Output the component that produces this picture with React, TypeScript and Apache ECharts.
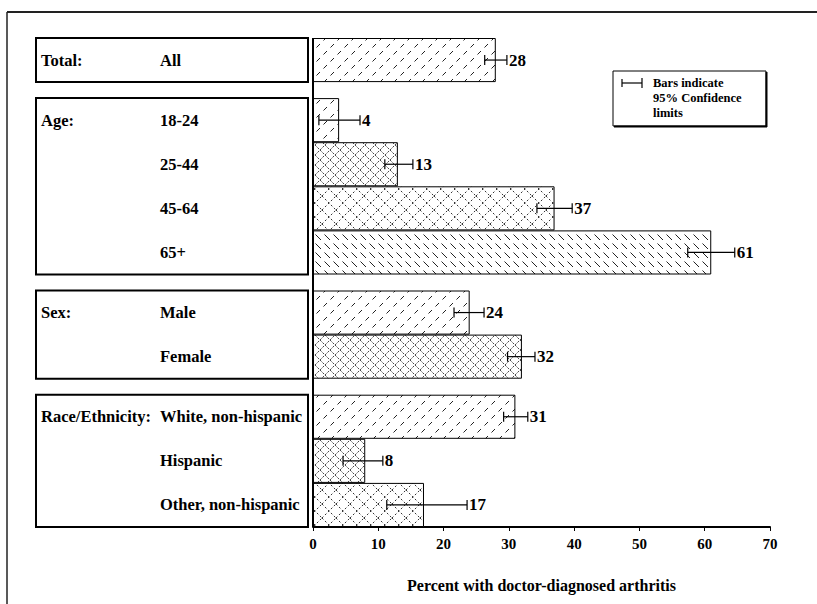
import React, { useEffect, useRef } from "react";
import * as echarts from "echarts";

// ---------- data ----------
const groupNames = ["Total:", "Age:", "Sex:", "Race/Ethnicity:"];
const groupSizes = [1, 4, 2, 3];
const categories = [
  "All",
  "18-24", "25-44", "45-64", "65+",
  "Male", "Female",
  "White, non-hispanic", "Hispanic", "Other, non-hispanic",
];
const values = [28, 4, 13, 37, 61, 24, 32, 31, 8, 17];
const ciLower = [26.3, 0.9, 11.0, 34.3, 57.4, 21.6, 29.8, 29.2, 4.6, 11.3];
const ciUpper = [29.7, 7.2, 15.3, 39.7, 64.6, 26.2, 34.0, 32.9, 10.7, 23.6];
const patternKinds = ["A", "A", "B", "C", "D", "A", "B", "A", "B", "C"];
const xMin = 0;
const xMax = 70;
const xInterval = 10;
const xTitle = "Percent with doctor-diagnosed arthritis";
const legendText = "Bars indicate\n95% Confidence\nlimits";

// ---------- layout / style ----------
const W = 817;
const H = 604;
const FONT = "'Liberation Serif', 'Times New Roman', serif";
const PLOT_LEFT = 313;
const PLOT_RIGHT = 770;
const PLOT_TOP = 38;
const SLOT = 44.1;
const GAP = 16;

function makePattern(kind: string) {
  const size = kind === "A" ? 14 : kind === "B" ? 10 : kind === "C" ? 14 : 9;
  const c = document.createElement("canvas");
  c.width = size;
  c.height = size;
  const ctx = c.getContext("2d")!;
  ctx.fillStyle = "#fff";
  ctx.fillRect(0, 0, size, size);
  ctx.strokeStyle = "#000";
  ctx.lineWidth = 1;
  const seg = (x1: number, y1: number, x2: number, y2: number) => {
    ctx.beginPath();
    ctx.moveTo(x1, y1);
    ctx.lineTo(x2, y2);
    ctx.stroke();
  };
  if (kind === "A") {
    ctx.strokeStyle = "#222";
    seg(1.5, 12.5, 5, 9);
    seg(8.5, 5.5, 12, 2);
  } else if (kind === "D") {
    ctx.strokeStyle = "#222";
    seg(0.5, 0.5, 6, 6);
  } else if (kind === "B") {
    ctx.strokeStyle = "#333";
    ctx.lineWidth = 0.9;
    ctx.setLineDash([2.2, 1.3]);
    seg(0, 0, size, size);
    seg(0, size, size, 0);
  } else {
    ctx.strokeStyle = "#333";
    ctx.setLineDash([2, 2.2]);
    seg(0, 0, size, size);
    seg(0, size, size, 0);
  }
  return {
    image: c.toDataURL(),
    repeat: "repeat",
    imageWidth: size,
    imageHeight: size,
  };
}

export default function App() {
  const ref = useRef<HTMLDivElement>(null);

  useEffect(() => {
    if (!ref.current) return;
    const chart = echarts.init(ref.current, undefined, { renderer: "svg" });

    const patterns: Record<string, any> = {};
    ["A", "B", "C", "D"].forEach((k) => (patterns[k] = makePattern(k)));

    const grids: any[] = [];
    const xAxes: any[] = [];
    const yAxes: any[] = [];
    const series: any[] = [];
    const boxes: any[] = [];

    let y = PLOT_TOP;
    let start = 0;
    groupSizes.forEach((n, gi) => {
      const h = n * SLOT;
      const last = gi === groupSizes.length - 1;
      grids.push({ left: PLOT_LEFT, right: W - PLOT_RIGHT, top: y, height: h });
      boxes.push({
        type: "rect",
        shape: { x: 36, y: y, width: 272, height: h },
        style: { fill: "none", stroke: "#000", lineWidth: 2 },
      });
      const cats = categories.slice(start, start + n);
      const gName = groupNames[gi];
      xAxes.push({
        gridIndex: gi,
        type: "value",
        min: xMin,
        max: xMax,
        interval: xInterval,
        show: last,
        splitLine: { show: false },
        axisLine: { show: true, lineStyle: { color: "#000", width: 2 } },
        axisTick: { show: true, length: 4, lineStyle: { color: "#000", width: 1 } },
        axisLabel: {
          margin: 9,
          color: "#000",
          fontFamily: FONT,
          fontWeight: "bold",
          fontSize: 15,
        },
        name: last ? xTitle : "",
        nameLocation: "middle",
        nameGap: 50,
        nameTextStyle: {
          color: "#000",
          fontFamily: FONT,
          fontWeight: "bold",
          fontSize: 16,
        },
      });
      const richBase = {
        fontFamily: FONT,
        fontWeight: "bold",
        fontSize: 16.5,
        color: "#000",
      };
      yAxes.push({
        gridIndex: gi,
        type: "category",
        inverse: true,
        data: cats,
        axisLine: { show: false },
        axisTick: { show: false },
        splitLine: { show: false },
        axisLabel: {
          align: "left",
          margin: PLOT_LEFT - 41,
          formatter: (v: string, idx: number) =>
            idx === 0 ? `{g|${gName}}{c|${v}}` : `{g| }{c|${v}}`,
          rich: {
            g: { ...richBase, width: 119 },
            c: { ...richBase },
          },
        },
      });
      series.push({
        type: "bar",
        xAxisIndex: gi,
        yAxisIndex: gi,
        barCategoryGap: 0,
        data: cats.map((_, k) => ({
          value: values[start + k],
          itemStyle: {
            color: patterns[patternKinds[start + k]],
            borderColor: "#000",
            borderWidth: 1,
          },
        })),
        silent: true,
      });
      series.push({
        type: "custom",
        xAxisIndex: gi,
        yAxisIndex: gi,
        clip: false,
        z: 5,
        data: cats.map((_, k) => [
          ciLower[start + k],
          ciUpper[start + k],
          values[start + k],
          k,
        ]),
        encode: { x: [0, 1], y: 3 },
        renderItem: (params: any, api: any) => {
          const lo = api.coord([api.value(0), api.value(3)]);
          const hi = api.coord([api.value(1), api.value(3)]);
          const yy = lo[1];
          const cap = 5;
          const ls = { stroke: "#000", lineWidth: 1.2 };
          return {
            type: "group",
            children: [
              { type: "line", shape: { x1: lo[0], y1: yy, x2: hi[0], y2: yy }, style: ls },
              { type: "line", shape: { x1: lo[0], y1: yy - cap, x2: lo[0], y2: yy + cap }, style: ls },
              { type: "line", shape: { x1: hi[0], y1: yy - cap, x2: hi[0], y2: yy + cap }, style: ls },
              {
                type: "text",
                style: {
                  x: hi[0] + 2,
                  y: yy,
                  text: String(api.value(2)),
                  fill: "#000",
                  fontFamily: FONT,
                  fontWeight: "bold",
                  fontSize: 17,
                  align: "left",
                  verticalAlign: "middle",
                  textAlign: "left",
                  textVerticalAlign: "middle",
                },
              },
            ],
          };
        },
      });
      y += h + GAP;
      start += n;
    });

    const plotBottom = y - GAP;

    const graphic: any[] = [
      // outer frame
      { type: "line", shape: { x1: 7, y1: 12, x2: W, y2: 12 }, style: { stroke: "#222", lineWidth: 2 } },
      { type: "line", shape: { x1: 7, y1: 12, x2: 7, y2: H }, style: { stroke: "#222", lineWidth: 1.5 } },
      // vertical axis line
      {
        type: "line",
        shape: { x1: PLOT_LEFT, y1: PLOT_TOP, x2: PLOT_LEFT, y2: plotBottom },
        style: { stroke: "#000", lineWidth: 2 },
        z: 10,
      },
      ...boxes,
      // legend box
      {
        type: "rect",
        shape: { x: 613, y: 71, width: 153, height: 55 },
        style: { fill: "#fff", stroke: "#000", lineWidth: 1 },
      },
      { type: "line", shape: { x1: 614, y1: 126.5, x2: 767, y2: 126.5 }, style: { stroke: "#000", lineWidth: 2 } },
      { type: "line", shape: { x1: 766.5, y1: 72, x2: 766.5, y2: 127 }, style: { stroke: "#000", lineWidth: 2 } },
      { type: "line", shape: { x1: 622, y1: 83, x2: 642, y2: 83 }, style: { stroke: "#000", lineWidth: 1.2 } },
      { type: "line", shape: { x1: 622, y1: 79, x2: 622, y2: 87 }, style: { stroke: "#000", lineWidth: 1.2 } },
      { type: "line", shape: { x1: 642, y1: 78, x2: 642, y2: 88 }, style: { stroke: "#000", lineWidth: 1.2 } },
      {
        type: "text",
        x: 653,
        y: 75,
        style: {
          text: legendText,
          fill: "#000",
          fontFamily: FONT,
          fontWeight: "bold",
          fontSize: 12.5,
          lineHeight: 15,
        },
      },
    ];

    chart.setOption({
      animation: false,
      backgroundColor: "#fff",
      grid: grids,
      xAxis: xAxes,
      yAxis: yAxes,
      series,
      graphic,
    });

    return () => chart.dispose();
  }, []);

  return (
    <div
      ref={ref}
      style={{ position: "fixed", left: 0, top: 0, width: W, height: H, background: "#fff" }}
    />
  );
}
